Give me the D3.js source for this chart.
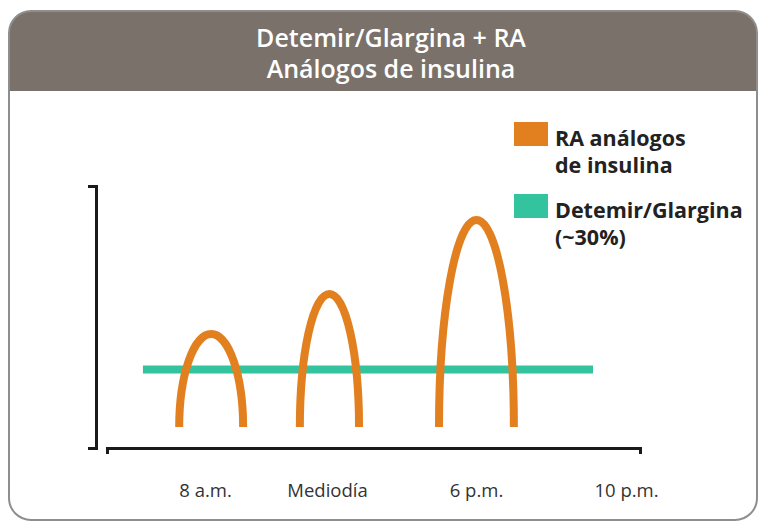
<!DOCTYPE html>
<html>
<head>
<meta charset="utf-8">
<script src="https://cdn.jsdelivr.net/npm/d3@7"></script>
<style>
  html, body { margin: 0; padding: 0; background: #ffffff; }
  svg { display: block; }
  text { font-family: "Open Sans", "Noto Sans", sans-serif; }
</style>
</head>
<body>
<svg id="chart" width="760" height="525"></svg>
<script>
// Time of day (hours) and the labels shown under the axis
const tickHours = [8, 12, 18, 22];
const tickLabels = ["8 a.m.", "Mediodía", "6 p.m.", "10 p.m."];

// Rapid-acting analogue doses: onset hour, end hour, peak level (% of scale)
const doseStart = [7.21, 11.11, 16.51];
const doseEnd = [9.25, 13.29, 19.01];
const dosePeak = [43.5, 58.8, 87];
const doseBase = 8;

// Basal (Detemir/Glargina) flat profile
const basalLevel = 30;
const basalFrom = 6.1;
const basalTo = 21.12;

// Legend entries
const legendNames = [["RA análogos", "de insulina"], ["Detemir/Glargina", "(~30%)"]];
const legendColors = ["#e27f1f", "#33c49f"];

const titleLines = ["Detemir/Glargina + RA", "Análogos de insulina"];

const svg = d3.select("#chart");

// Card frame with a rounded outline and a dark header band
const frame = { x: 9, y: 11, w: 748, h: 509, r: 22, head: 80 };
svg.append("clipPath").attr("id", "card")
  .append("rect")
  .attr("x", frame.x).attr("y", frame.y)
  .attr("width", frame.w).attr("height", frame.h)
  .attr("rx", frame.r).attr("ry", frame.r);

svg.append("rect")
  .attr("x", frame.x).attr("y", frame.y)
  .attr("width", frame.w).attr("height", frame.h)
  .attr("rx", frame.r).attr("ry", frame.r)
  .attr("fill", "#ffffff");

svg.append("rect")
  .attr("clip-path", "url(#card)")
  .attr("x", frame.x).attr("y", frame.y)
  .attr("width", frame.w).attr("height", frame.head)
  .attr("fill", "#7a716a");

svg.append("rect")
  .attr("x", frame.x).attr("y", frame.y)
  .attr("width", frame.w).attr("height", frame.h)
  .attr("rx", frame.r).attr("ry", frame.r)
  .attr("fill", "none")
  .attr("stroke", "#8e8e8e")
  .attr("stroke-width", 2);

svg.append("g")
  .selectAll("text")
  .data(titleLines)
  .join("text")
  .attr("x", 391)
  .attr("y", (d, i) => 47 + i * 31)
  .attr("text-anchor", "middle")
  .attr("fill", "#ffffff")
  .attr("font-size", 25)
  .attr("font-weight", 600)
  .text(d => d);

// Time scale, stretched unevenly between the meal times
const x = d3.scaleLinear()
  .domain([5, 8, 12, 18, 22, 22.4])
  .range([107, 205, 327, 476, 626, 640]);

const y = d3.scaleLinear()
  .domain([0, 100])
  .range([448, 186]);

// Y axis: bare bracket with end serifs
const yAxis = svg.append("g")
  .attr("transform", "translate(96,0)")
  .call(d3.axisLeft(y).tickValues([]).tickSizeOuter(8));
yAxis.select(".domain").attr("stroke", "#1a1a1a").attr("stroke-width", 3);

// X axis: baseline with end ticks and time-of-day labels
const xAxis = svg.append("g")
  .attr("transform", "translate(0,448)")
  .call(d3.axisBottom(x)
    .tickValues(tickHours)
    .tickFormat((d, i) => tickLabels[i])
    .tickSize(0)
    .tickSizeOuter(6)
    .tickPadding(36));
xAxis.select(".domain").attr("stroke", "#1a1a1a").attr("stroke-width", 3);
xAxis.selectAll("text")
  .attr("font-family", "'Open Sans', sans-serif")
  .attr("font-size", 18.5)
  .attr("fill", "#333333");

// Basal insulin: flat line
svg.append("line")
  .attr("x1", x(basalFrom)).attr("x2", x(basalTo))
  .attr("y1", y(basalLevel)).attr("y2", y(basalLevel))
  .attr("stroke", legendColors[1])
  .attr("stroke-width", 8);

// Bolus doses: half-ellipse arches rising from the base level
const doses = doseStart.map((s, i) => ({ s, e: doseEnd[i], p: dosePeak[i] }));
svg.append("g")
  .selectAll("path")
  .data(doses)
  .join("path")
  .attr("d", d => {
    const x0 = x(d.s), x1 = x(d.e), yb = y(doseBase);
    const rx = (x1 - x0) / 2, ry = yb - y(d.p);
    return `M${x0},${yb}A${rx},${ry} 0 0 1 ${x1},${yb}`;
  })
  .attr("fill", "none")
  .attr("stroke", legendColors[0])
  .attr("stroke-width", 8)
  .attr("stroke-linecap", "butt");

// Legend
const legend = svg.append("g").attr("transform", "translate(514,122)");
const item = legend.selectAll("g")
  .data(legendNames)
  .join("g")
  .attr("transform", (d, i) => `translate(0,${i * 72})`);
item.append("rect")
  .attr("width", 34).attr("height", 24)
  .attr("fill", (d, i) => legendColors[i]);
item.append("text")
  .attr("font-size", 21.5)
  .attr("font-weight", 700)
  .attr("fill", "#222222")
  .selectAll("tspan")
  .data(d => d)
  .join("tspan")
  .attr("x", 41)
  .attr("y", (d, i) => 24 + i * 27)
  .text(d => d);
</script>
</body>
</html>
